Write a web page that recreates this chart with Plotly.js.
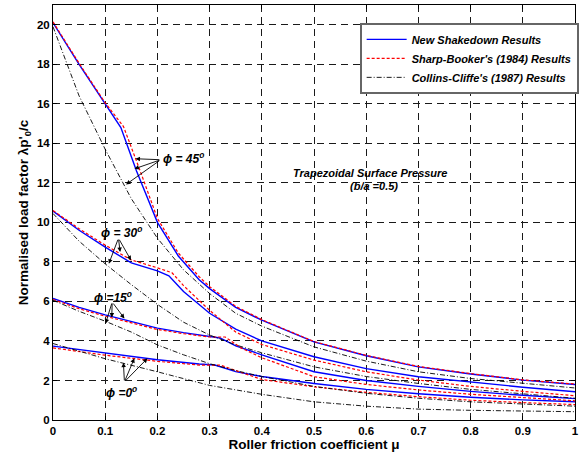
<!DOCTYPE html>
<html>
<head>
<meta charset="utf-8">
<script src="https://cdn.plot.ly/plotly-3.0.1.min.js"></script>
<style>html,body{margin:0;padding:0;background:#fff;}#chart{width:582px;height:452px;}</style>
</head>
<body>
<div id="chart"></div>
<script>
// phi = 45 deg
var x45b = [0, 0.05, 0.1, 0.13, 0.16, 0.2, 0.24, 0.28, 0.3, 0.35, 0.4, 0.5, 0.6, 0.7, 0.8, 0.9, 1.0];
var y45b = [20.1, 18.0, 16.0, 14.8, 12.6, 10.0, 8.3, 7.1, 6.65, 5.7, 5.05, 3.95, 3.25, 2.69, 2.33, 2.02, 1.80];
var x45r = [0, 0.05, 0.1, 0.135, 0.165, 0.2, 0.24, 0.28, 0.3, 0.35, 0.4, 0.5, 0.6, 0.7, 0.8, 0.9, 1.0];
var y45r = [20.15, 18.05, 16.05, 14.85, 12.75, 10.2, 8.45, 7.25, 6.75, 5.75, 5.08, 3.97, 3.27, 2.71, 2.35, 2.03, 1.82];
var x45k = [0, 0.05, 0.1, 0.15, 0.2, 0.25, 0.3, 0.35, 0.4, 0.5, 0.6, 0.7, 0.8, 0.9, 1.0];
var y45k = [19.9, 16.4, 13.7, 11.2, 9.2, 7.6, 6.4, 5.4, 4.75, 3.7, 2.98, 2.44, 2.1, 1.85, 1.62];
// phi = 30 deg
var x30b = [0, 0.05, 0.1, 0.15, 0.2, 0.222, 0.25, 0.3, 0.35, 0.4, 0.5, 0.6, 0.7, 0.8, 0.9, 1.0];
var y30b = [10.57, 9.6, 8.75, 7.95, 7.55, 7.3, 6.5, 5.4, 4.6, 4.0, 3.2, 2.6, 2.19, 1.92, 1.66, 1.43];
var x30r = [0, 0.05, 0.1, 0.15, 0.2, 0.228, 0.25, 0.3, 0.35, 0.4, 0.5, 0.6, 0.7, 0.8, 0.9, 1.0];
var y30r = [10.6, 9.68, 8.85, 8.1, 7.7, 7.45, 6.8, 5.55, 4.45, 3.82, 3.03, 2.44, 2.02, 1.7, 1.45, 1.23];
var x30k = [0, 0.05, 0.1, 0.15, 0.2, 0.25, 0.3, 0.35, 0.4, 0.5, 0.6, 0.7, 0.8, 0.9, 1.0];
var y30k = [10.45, 9.05, 7.9, 6.85, 5.85, 4.95, 4.3, 3.8, 3.4, 2.69, 2.2, 1.85, 1.55, 1.32, 1.1];
// phi = 15 deg
var x15b = [0, 0.05, 0.1, 0.15, 0.2, 0.25, 0.3, 0.32, 0.35, 0.4, 0.5, 0.6, 0.7, 0.8, 0.9, 1.0];
var y15b = [6.15, 5.7, 5.32, 4.97, 4.65, 4.42, 4.22, 4.15, 3.75, 3.3, 2.44, 2.0, 1.7, 1.45, 1.25, 1.08];
var x15r = [0, 0.05, 0.1, 0.15, 0.2, 0.25, 0.3, 0.33, 0.36, 0.4, 0.5, 0.6, 0.7, 0.8, 0.9, 1.0];
var y15r = [6.1, 5.63, 5.25, 4.9, 4.58, 4.37, 4.2, 4.2, 3.65, 3.15, 2.19, 1.8, 1.52, 1.3, 1.12, 0.97];
var x15k = [0, 0.05, 0.1, 0.15, 0.2, 0.25, 0.3, 0.35, 0.4, 0.5, 0.6, 0.7, 0.8, 0.9, 1.0];
var y15k = [6.06, 5.5, 5.0, 4.45, 3.8, 3.3, 2.85, 2.5, 2.2, 1.7, 1.35, 1.1, 0.92, 0.8, 0.7];
// phi = 0 deg
var x0b = [0, 0.1, 0.2, 0.28, 0.31, 0.35, 0.4, 0.5, 0.6, 0.7, 0.8, 0.9, 1.0];
var y0b = [3.74, 3.38, 3.05, 2.83, 2.78, 2.45, 2.2, 1.85, 1.55, 1.33, 1.15, 1.02, 0.92];
var x0r = [0, 0.1, 0.2, 0.28, 0.32, 0.36, 0.4, 0.5, 0.6, 0.7, 0.8, 0.9, 1.0];
var y0r = [3.65, 3.28, 2.97, 2.78, 2.78, 2.4, 2.05, 1.68, 1.4, 1.18, 1.0, 0.88, 0.78];
var x0k = [0, 0.1, 0.2, 0.26, 0.3, 0.4, 0.5, 0.6, 0.7, 0.8, 0.9, 1.0];
var y0k = [3.87, 3.1, 2.44, 2.02, 1.75, 1.3, 0.92, 0.7, 0.55, 0.49, 0.45, 0.42];

var seriesNames = ["New Shakedown Results", "Sharp-Booker's (1984) Results", "Collins-Cliffe's (1987) Results"];

// tick values / labels
var xTickVals = [0, 0.1, 0.2, 0.3, 0.4, 0.5, 0.6, 0.7, 0.8, 0.9, 1];
var xTickLabels = ['0', '0.1', '0.2', '0.3', '0.4', '0.5', '0.6', '0.7', '0.8', '0.9', '1'];
var yTickVals = [0, 2, 4, 6, 8, 10, 12, 14, 16, 18, 20];
var yTickLabels = ['0', '2', '4', '6', '8', '10', '12', '14', '16', '18', '20'];

var FONT = "Arial, 'Liberation Sans', sans-serif";
var styles = [
  {color: '#0000ff', width: 1.4, dash: 'solid'},
  {color: '#ff0000', width: 1.2, dash: '3px,2px'},
  {color: '#000000', width: 0.9, dash: '5px,2px,1px,2px'}
];

var groups = [
  [[x45b, y45b], [x45r, y45r], [x45k, y45k]],
  [[x30b, y30b], [x30r, y30r], [x30k, y30k]],
  [[x15b, y15b], [x15r, y15r], [x15k, y15k]],
  [[x0b, y0b], [x0r, y0r], [x0k, y0k]]
];

var traces = [];
for (var s = 0; s < 3; s++) {
  for (var g = 0; g < groups.length; g++) {
    traces.push({
      x: groups[g][s][0], y: groups[g][s][1],
      type: 'scatter', mode: 'lines',
      name: '<b><i>' + seriesNames[s] + '</i></b>', legendgroup: 's' + s,
      showlegend: g === 0,
      line: {color: styles[s].color, width: styles[s].width, dash: styles[s].dash}
    });
  }
}

// annotation data (label positions and arrow tails/heads in data units)
var phiLabels = ["\u03D5 = 45<sup>o</sup>", "\u03D5 = 30<sup>o</sup>", "\u03D5 =15<sup>o</sup>", "\u03D5 =0<sup>o</sup>"];
var labelX = [0.25, 0.131, 0.114, 0.131];
var labelY = [13.25, 9.5, 6.2, 1.43];
var arrowTail = [[0.2065, 13.17], [0.1254, 9.2], [0.1134, 5.97], [0.1368, 1.93]];
var arrowHeads = [
  [[0.158, 13.22], [0.156, 12.71], [0.14, 11.92]],
  [[0.107, 7.91], [0.1286, 8.5], [0.1495, 8.08]],
  [[0.1007, 4.88], [0.1126, 5.19], [0.1368, 5.14]],
  [[0.1349, 2.9], [0.1558, 3.12], [0.181, 3.12]]
];

var annFont = {family: FONT, size: 12, color: '#000'};
var annotations = [];
for (var i = 0; i < phiLabels.length; i++) {
  annotations.push({x: labelX[i], y: labelY[i], xref: 'x', yref: 'y', text: '<b><i>' + phiLabels[i] + '</i></b>',
    showarrow: false, font: annFont, xanchor: 'center', yanchor: 'middle'});
  for (var j = 0; j < 3; j++) {
    annotations.push({x: arrowHeads[i][j][0], y: arrowHeads[i][j][1], ax: arrowTail[i][0], ay: arrowTail[i][1],
      xref: 'x', yref: 'y', axref: 'x', ayref: 'y', text: '', showarrow: true,
      arrowhead: 2, arrowsize: 1, arrowwidth: 0.9, arrowcolor: '#000', standoff: 0, startstandoff: 0});
  }
}
var noteFont = {family: FONT, size: 11, color: '#000'};
annotations.push({x: 0.607, y: 12.5, xref: 'x', yref: 'y', text: '<b><i>Trapezoidal Surface Pressure</i></b>',
  showarrow: false, font: noteFont, yanchor: 'middle'});
annotations.push({x: 0.614, y: 11.85, xref: 'x', yref: 'y', text: '<b><i>(b/a =0.5)</i></b>', yanchor: 'middle',
  showarrow: false, font: noteFont});

function bold(arr) { return arr.map(function (t) { return '<b>' + t + '</b>'; }); }

var axisCommon = {
  showline: true, linecolor: '#000', linewidth: 1, mirror: 'ticks',
  ticks: 'inside', ticklen: 4, tickcolor: '#000', tickmode: 'array',
  showgrid: true, gridcolor: '#1a1a1a', gridwidth: 1, griddash: '7px,5px',
  zeroline: false, automargin: false,
  tickfont: {family: FONT, size: 11.5, color: '#000'}
};

var layout = {
  width: 582, height: 452,
  margin: {l: 53, r: 3, t: 5, b: 32},
  paper_bgcolor: '#fff', plot_bgcolor: '#fff',
  font: {family: FONT},
  xaxis: Object.assign({}, axisCommon, {
    range: [0, 1], tickvals: xTickVals, ticktext: bold(xTickLabels),
    title: {text: '<b>Roller friction coefficient \u03BC</b>', standoff: 3,
      font: {family: FONT, size: 13.5, color: '#000'}}
  }),
  yaxis: Object.assign({}, axisCommon, {
    range: [0, 21], tickvals: yTickVals, ticktext: bold(yTickLabels),
    title: {text: "<b>Normalised load factor \u03BBp'<sub>0</sub>/c</b>", standoff: 5,
      font: {family: FONT, size: 13.5, color: '#000'}}
  }),
  legend: {
    x: 1.007, xanchor: 'right', y: 0.957, yanchor: 'top',
    bgcolor: '#fff', bordercolor: '#666', borderwidth: 2,
    font: {family: FONT, size: 11, color: '#000'},
    tracegroupgap: 0, itemwidth: 40
  },
  annotations: annotations,
  showlegend: true
};

Plotly.newPlot('chart', traces, layout, {staticPlot: true, displayModeBar: false});
</script>
</body>
</html>
